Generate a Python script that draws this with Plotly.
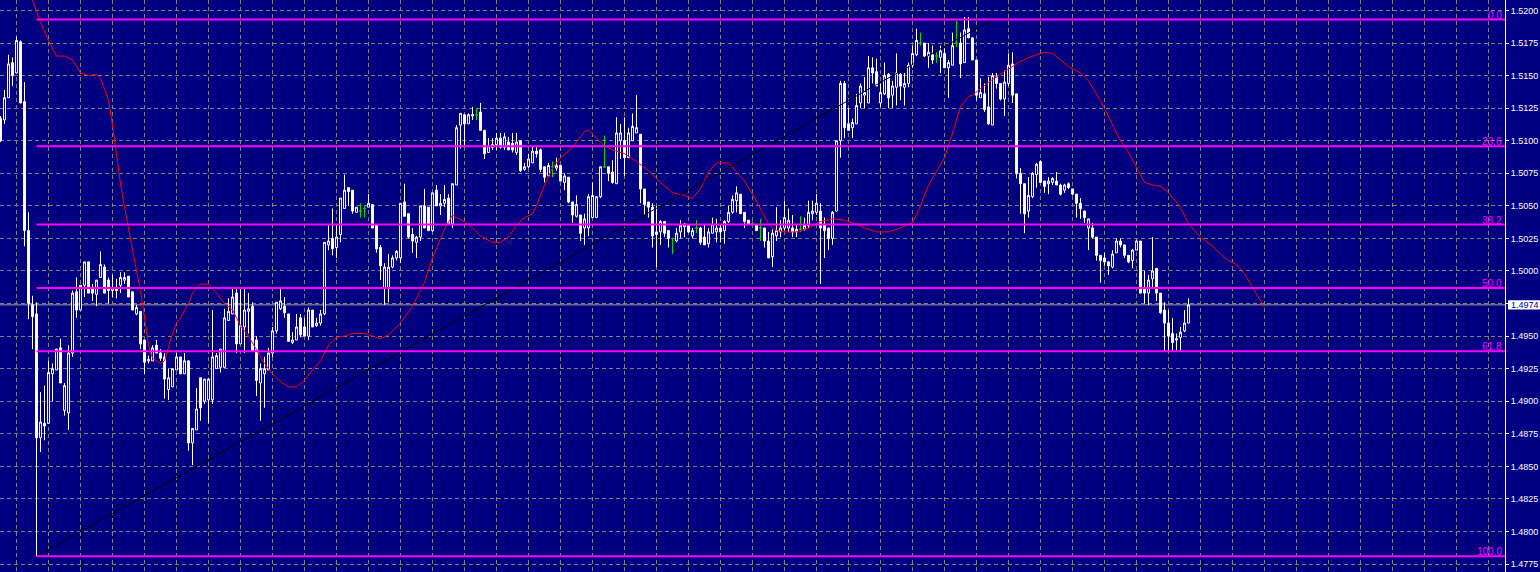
import plotly.graph_objects as go

# ---------------- data ----------------
open_ = [
    1.5117,1.5116,1.5133,1.5160,1.5152,1.5176,1.5130,1.5031,1.4974,1.4967,
    1.4872,1.4883,1.4883,1.4921,1.4924,1.4941,1.4893,1.4891,1.4937,1.4984,
    1.4970,1.4989,1.5007,1.4987,1.4982,1.4995,1.5003,1.4993,1.4985,1.4987,
    1.4989,1.4993,1.4996,1.4984,1.4967,1.4969,1.4947,1.4931,1.4931,1.4943,
    1.4937,1.4934,1.4909,1.4911,1.4924,1.4934,1.4921,1.4931,1.4868,1.4878,
    1.4918,1.4900,1.4901,1.4901,1.4925,1.4926,1.4926,1.4962,1.4967,1.4983,
    1.4944,1.4957,1.4969,1.4973,1.4947,1.4914,1.4921,1.4924,1.4937,1.4954,
    1.4971,1.4973,1.4967,1.4945,1.4947,1.4964,1.4957,1.4950,1.4970,1.4958,
    1.4960,1.4967,1.5020,1.5025,1.5018,1.5028,1.5048,1.5064,1.5062,1.5045,
    1.5046,1.5048,1.5049,1.5051,1.5035,1.5018,1.4987,1.4987,1.5003,1.5010,
    1.5010,1.5053,1.5044,1.5028,1.5022,1.5026,1.5050,1.5049,1.5031,1.5062,
    1.5050,1.5052,1.5056,1.5036,1.5066,1.5112,1.5120,1.5113,1.5119,1.5120,
    1.5122,1.5108,1.5091,1.5095,1.5097,1.5102,1.5095,1.5099,1.5098,1.5091,
    1.5100,1.5078,1.5080,1.5083,1.5092,1.5093,1.5080,1.5073,1.5080,1.5079,
    1.5081,1.5068,1.5072,1.5053,1.5042,1.5043,1.5033,1.5033,1.5041,1.5041,
    1.5057,1.5080,1.5080,1.5076,1.5067,1.5100,1.5100,1.5087,1.5100,1.5106,
    1.5105,1.5063,1.5053,1.5049,1.5030,1.5030,1.5038,1.5031,1.5025,1.5023,
    1.5030,1.5034,1.5035,1.5027,1.5033,1.5033,1.5026,1.5021,1.5029,1.5030,
    1.5033,1.5031,1.5038,1.5045,1.5054,1.5059,1.5045,1.5039,1.5036,1.5035,
    1.5033,1.5033,1.5023,1.5011,1.5027,1.5030,1.5033,1.5033,1.5033,1.5030,
    1.5032,1.5032,1.5035,1.5044,1.5045,1.5046,1.5036,1.5033,1.5025,1.5046,
    1.5100,1.5144,1.5113,1.5110,1.5113,1.5129,1.5135,1.5129,1.5156,1.5153,
    1.5129,1.5136,1.5151,1.5135,1.5141,1.5151,1.5141,1.5144,1.5158,1.5166,
    1.5175,1.5175,1.5165,1.5166,1.5165,1.5164,1.5167,1.5156,1.5158,1.5175,
    1.5175,1.5160,1.5186,1.5179,1.5162,1.5133,1.5136,1.5126,1.5112,1.5149,
    1.5144,1.5132,1.5144,1.5159,1.5136,1.5075,1.5067,1.5046,1.5057,1.5074,
    1.5084,1.5069,1.5067,1.5068,1.5069,1.5066,1.5062,1.5067,1.5063,1.5059,
    1.5052,1.5046,1.5033,1.5033,1.5026,1.5012,1.5010,1.5007,1.5003,1.5014,
    1.5023,1.5020,1.5012,1.5008,1.5016,1.5023,1.4987,1.4983,1.4994,1.5002,
    1.4983,1.4970,1.4960,1.4952,1.4947,1.4949,1.4954,1.4960,
]
high = [
    1.5119,1.5139,1.5166,1.5164,1.5180,1.5177,1.5145,1.5045,1.4981,1.4976,
    1.4907,1.4912,1.4931,1.4929,1.4940,1.4948,1.4914,1.4943,1.4985,1.4995,
    1.4989,1.5007,1.5007,1.4990,1.4993,1.5015,1.5005,1.4995,1.4997,1.4994,
    1.4999,1.4999,1.4996,1.4984,1.4974,1.4969,1.4947,1.4935,1.4943,1.4947,
    1.4940,1.4937,1.4925,1.4925,1.4937,1.4934,1.4937,1.4931,1.4879,1.4910,
    1.4918,1.4917,1.4918,1.4970,1.4937,1.4940,1.4971,1.4979,1.4987,1.4986,
    1.4986,1.4986,1.4983,1.4976,1.4950,1.4929,1.4934,1.4941,1.4957,1.4976,
    1.4986,1.4980,1.4967,1.4953,1.4967,1.4967,1.4964,1.4972,1.4970,1.4964,
    1.4970,1.5022,1.5035,1.5048,1.5035,1.5056,1.5074,1.5064,1.5062,1.5049,
    1.5052,1.5050,1.5059,1.5051,1.5035,1.5020,1.5006,1.5013,1.5012,1.5016,
    1.5052,1.5067,1.5044,1.5033,1.5027,1.5050,1.5063,1.5049,1.5060,1.5066,
    1.5059,1.5066,1.5059,1.5067,1.5112,1.5121,1.5120,1.5121,1.5126,1.5125,
    1.5129,1.5108,1.5102,1.5102,1.5106,1.5106,1.5106,1.5103,1.5106,1.5106,
    1.5100,1.5083,1.5090,1.5096,1.5096,1.5094,1.5080,1.5083,1.5084,1.5087,
    1.5081,1.5075,1.5072,1.5053,1.5058,1.5043,1.5044,1.5059,1.5068,1.5057,
    1.5080,1.5104,1.5080,1.5085,1.5118,1.5113,1.5118,1.5110,1.5121,1.5135,
    1.5105,1.5063,1.5053,1.5052,1.5050,1.5039,1.5038,1.5031,1.5025,1.5033,
    1.5039,1.5037,1.5035,1.5033,1.5039,1.5034,1.5036,1.5033,1.5041,1.5040,
    1.5036,1.5039,1.5050,1.5058,1.5065,1.5059,1.5045,1.5039,1.5038,1.5035,
    1.5040,1.5033,1.5030,1.5032,1.5049,1.5039,1.5054,1.5048,1.5043,1.5036,
    1.5042,1.5041,1.5054,1.5054,1.5059,1.5052,1.5041,1.5033,1.5046,1.5100,
    1.5146,1.5146,1.5125,1.5117,1.5136,1.5144,1.5149,1.5165,1.5164,1.5163,
    1.5144,1.5160,1.5152,1.5146,1.5167,1.5152,1.5152,1.5160,1.5173,1.5186,
    1.5183,1.5175,1.5175,1.5173,1.5168,1.5173,1.5171,1.5162,1.5183,1.5192,
    1.5183,1.5195,1.5195,1.5179,1.5162,1.5148,1.5144,1.5149,1.5152,1.5152,
    1.5144,1.5154,1.5167,1.5168,1.5136,1.5079,1.5067,1.5072,1.5076,1.5083,
    1.5085,1.5069,1.5072,1.5072,1.5076,1.5067,1.5067,1.5068,1.5063,1.5059,
    1.5056,1.5046,1.5040,1.5037,1.5026,1.5012,1.5014,1.5007,1.5016,1.5025,
    1.5025,1.5020,1.5012,1.5017,1.5024,1.5023,1.5000,1.4997,1.5026,1.5002,
    1.4983,1.4976,1.4970,1.4964,1.4952,1.4957,1.4970,1.4979,
]
low = [
    1.5099,1.5113,1.5133,1.5142,1.5152,1.5129,1.5019,1.4963,1.4940,1.4849,
    1.4861,1.4870,1.4883,1.4900,1.4924,1.4914,1.4889,1.4878,1.4934,1.4964,
    1.4970,1.4980,1.4983,1.4977,1.4973,1.4995,1.4983,1.4975,1.4980,1.4979,
    1.4983,1.4990,1.4980,1.4970,1.4966,1.4940,1.4921,1.4929,1.4931,1.4937,
    1.4931,1.4902,1.4901,1.4911,1.4924,1.4921,1.4921,1.4862,1.4851,1.4878,
    1.4885,1.4898,1.4883,1.4898,1.4925,1.4922,1.4926,1.4962,1.4967,1.4937,
    1.4944,1.4937,1.4952,1.4939,1.4904,1.4885,1.4895,1.4924,1.4934,1.4952,
    1.4970,1.4964,1.4946,1.4944,1.4947,1.4949,1.4950,1.4947,1.4957,1.4957,
    1.4958,1.4966,1.5016,1.5012,1.5010,1.5022,1.5048,1.5050,1.5044,1.5045,
    1.5041,1.5041,1.5049,1.5033,1.5014,1.4993,1.4974,1.4976,1.5002,1.5008,
    1.5006,1.5042,1.5025,1.5014,1.5010,1.5023,1.5033,1.5031,1.5030,1.5050,
    1.5043,1.5049,1.5036,1.5033,1.5066,1.5094,1.5096,1.5113,1.5116,1.5116,
    1.5108,1.5086,1.5091,1.5093,1.5093,1.5094,1.5093,1.5093,1.5091,1.5089,
    1.5076,1.5077,1.5079,1.5083,1.5087,1.5076,1.5068,1.5072,1.5072,1.5077,
    1.5069,1.5062,1.5052,1.5037,1.5041,1.5023,1.5020,1.5027,1.5041,1.5041,
    1.5056,1.5079,1.5069,1.5067,1.5067,1.5086,1.5073,1.5087,1.5100,1.5106,
    1.5052,1.5043,1.5041,1.5018,1.5003,1.5020,1.5026,1.5018,1.5013,1.5022,
    1.5025,1.5026,1.5029,1.5025,1.5029,1.5020,1.5020,1.5018,1.5029,1.5022,
    1.5022,1.5021,1.5037,1.5044,1.5045,1.5044,1.5033,1.5036,1.5034,1.5031,
    1.5023,1.5018,1.5010,1.5003,1.5023,1.5026,1.5031,1.5030,1.5026,1.5026,
    1.5030,1.5031,1.5033,1.5039,1.5043,1.4990,1.5010,1.5016,1.5020,1.5046,
    1.5087,1.5102,1.5108,1.5102,1.5113,1.5125,1.5125,1.5129,1.5144,1.5142,
    1.5126,1.5135,1.5125,1.5125,1.5127,1.5131,1.5127,1.5141,1.5156,1.5165,
    1.5173,1.5164,1.5156,1.5159,1.5160,1.5152,1.5156,1.5133,1.5158,1.5172,
    1.5148,1.5160,1.5179,1.5162,1.5131,1.5133,1.5122,1.5112,1.5112,1.5140,
    1.5131,1.5119,1.5142,1.5129,1.5071,1.5044,1.5029,1.5041,1.5056,1.5064,
    1.5068,1.5060,1.5059,1.5066,1.5066,1.5058,1.5060,1.5063,1.5058,1.5041,
    1.5040,1.5037,1.5016,1.5025,1.5008,1.4991,1.5004,1.4997,1.5002,1.5014,
    1.5018,1.5010,1.5006,1.5002,1.5016,1.4983,1.4975,1.4974,1.4987,1.4977,
    1.4967,1.4939,1.4939,1.4938,1.4939,1.4939,1.4953,1.4960,
]
close_ = [
    1.5100,1.5133,1.5159,1.5150,1.5177,1.5129,1.5031,1.4975,1.4965,1.4872,
    1.4884,1.4881,1.4922,1.4925,1.4940,1.4914,1.4912,1.4937,1.4983,1.4970,
    1.4989,1.5007,1.4983,1.4983,1.4993,1.5005,1.4983,1.4985,1.4987,1.4985,
    1.4995,1.4995,1.4980,1.4970,1.4972,1.4944,1.4930,1.4932,1.4941,1.4937,
    1.4933,1.4917,1.4918,1.4925,1.4934,1.4921,1.4931,1.4868,1.4879,1.4894,
    1.4895,1.4917,1.4917,1.4934,1.4935,1.4940,1.4964,1.4969,1.4980,1.4944,
    1.4958,1.4970,1.4971,1.4939,1.4916,1.4925,1.4925,1.4937,1.4954,1.4976,
    1.4977,1.4968,1.4946,1.4947,1.4957,1.4951,1.4950,1.4970,1.4957,1.4960,
    1.4967,1.5022,1.5023,1.5017,1.5026,1.5056,1.5062,1.5061,1.5046,1.5049,
    1.5046,1.5048,1.5052,1.5033,1.5017,1.5004,1.5003,1.5003,1.5010,1.5015,
    1.5052,1.5042,1.5026,1.5023,1.5026,1.5050,1.5033,1.5031,1.5060,1.5050,
    1.5052,1.5055,1.5036,1.5067,1.5110,1.5121,1.5113,1.5120,1.5120,1.5120,
    1.5108,1.5090,1.5096,1.5097,1.5102,1.5095,1.5103,1.5093,1.5093,1.5099,
    1.5077,1.5080,1.5086,1.5092,1.5090,1.5078,1.5072,1.5081,1.5080,1.5081,
    1.5069,1.5073,1.5053,1.5043,1.5051,1.5029,1.5040,1.5057,1.5058,1.5057,
    1.5080,1.5080,1.5075,1.5068,1.5106,1.5106,1.5087,1.5106,1.5111,1.5110,
    1.5063,1.5051,1.5049,1.5027,1.5028,1.5038,1.5029,1.5025,1.5025,1.5029,
    1.5035,1.5036,1.5030,1.5031,1.5033,1.5022,1.5020,1.5030,1.5036,1.5033,
    1.5030,1.5038,1.5045,1.5055,1.5060,1.5044,1.5038,1.5036,1.5036,1.5031,
    1.5033,1.5023,1.5010,1.5029,1.5031,1.5033,1.5041,1.5039,1.5030,1.5032,
    1.5032,1.5035,1.5045,1.5046,1.5052,1.5033,1.5031,1.5025,1.5045,1.5100,
    1.5144,1.5110,1.5108,1.5114,1.5127,1.5142,1.5137,1.5156,1.5152,1.5142,
    1.5137,1.5150,1.5133,1.5142,1.5152,1.5142,1.5144,1.5158,1.5167,1.5177,
    1.5175,1.5165,1.5168,1.5162,1.5165,1.5169,1.5156,1.5160,1.5173,1.5175,
    1.5159,1.5185,1.5179,1.5162,1.5135,1.5137,1.5124,1.5113,1.5150,1.5144,
    1.5132,1.5145,1.5158,1.5135,1.5075,1.5067,1.5044,1.5058,1.5075,1.5082,
    1.5068,1.5065,1.5069,1.5071,1.5066,1.5059,1.5066,1.5064,1.5059,1.5052,
    1.5048,1.5041,1.5040,1.5026,1.5012,1.5008,1.5007,1.5004,1.5013,1.5023,
    1.5020,1.5012,1.5007,1.5016,1.5023,1.4983,1.4983,1.4993,1.5000,1.4983,
    1.4968,1.4960,1.4950,1.4945,1.4948,1.4953,1.4960,1.4974,
]
bars = list(range(len(close_)))

# displaced moving average (red), read at bar positions
ma_bars = [
    8,10,12,14,16,18,20,22,24,25,26,27,28,29,30,31,32,33,34,35,
    36,37,38,40,41,42,43,44,45,47,48,50,52,54,56,58,60,62,64,66,
    68,70,72,74,76,78,80,82,84,86,88,91,93,95,97,100,103,106,108,111,
    113,114,116,118,120,123,125,127,129,131,133,134,136,138,140,142,144,146,147,149,
    151,153,156,159,162,165,168,171,173,175,177,179,181,182,184,186,188,190,192,194,
    196,199,202,205,208,211,214,216,219,222,225,228,230,232,234,236,238,240,242,243,
    245,247,249,252,255,258,261,263,265,267,270,272,275,277,280,282,284,286,288,290,
    292,295,297,300,303,305,307,309,311,313,315,316,
]
ma_vals = [
    1.5208,1.5191,1.5177,1.5165,1.5165,1.5162,1.5152,1.5150,1.5151,1.5148,
    1.5140,1.5131,1.5112,1.5089,1.5067,1.5049,1.5031,1.5016,1.5000,1.4985,
    1.4964,1.4943,1.4933,1.4929,1.4931,1.4941,1.4952,1.4960,1.4964,1.4975,
    1.4983,1.4990,1.4990,1.4983,1.4975,1.4970,1.4958,1.4950,1.4940,1.4929,
    1.4921,1.4915,1.4911,1.4911,1.4916,1.4924,1.4931,1.4943,1.4949,1.4950,
    1.4952,1.4952,1.4950,1.4948,1.4951,1.4960,1.4973,1.4991,1.5010,1.5032,
    1.5043,1.5041,1.5038,1.5033,1.5027,1.5022,1.5022,1.5026,1.5035,1.5041,
    1.5044,1.5050,1.5066,1.5079,1.5087,1.5092,1.5099,1.5107,1.5108,1.5102,
    1.5096,1.5093,1.5090,1.5084,1.5077,1.5068,1.5060,1.5058,1.5056,1.5063,
    1.5076,1.5083,1.5083,1.5083,1.5076,1.5069,1.5059,1.5048,1.5036,1.5031,
    1.5030,1.5030,1.5033,1.5038,1.5040,1.5039,1.5036,1.5033,1.5030,1.5030,
    1.5033,1.5037,1.5050,1.5066,1.5077,1.5087,1.5106,1.5126,1.5134,1.5135,
    1.5140,1.5145,1.5149,1.5155,1.5161,1.5165,1.5168,1.5167,1.5162,1.5157,
    1.5152,1.5146,1.5131,1.5119,1.5100,1.5091,1.5079,1.5068,1.5066,1.5065,
    1.5060,1.5049,1.5036,1.5026,1.5019,1.5013,1.5008,1.5005,1.4998,1.4987,
    1.4977,1.4972,
]

# Fibonacci retracement object
fib_anchor_bars = [9, 248]
fib_anchor_prices = [1.4781, 1.5193]
fib_ratios = [0.0, 0.236, 0.382, 0.5, 0.618, 1.0]
fib_labels = ["0.0", "23.6", "38.2", "50.0", "61.8", "100.0"]

last_price = 1.4974
last_label = "1.4974"

y_tick_vals = [1.4775, 1.4800, 1.4825, 1.4850, 1.4875, 1.4900, 1.4925, 1.4950,
               1.4975, 1.5000, 1.5025, 1.5050, 1.5075, 1.5100, 1.5125, 1.5150,
               1.5175, 1.5200]
y_tick_text = ["1.4775", "1.4800", "1.4825", "1.4850", "1.4875", "1.4900", "1.4925", "1.4950",
               "", "1.5000", "1.5025", "1.5050", "1.5075", "1.5100", "1.5125", "1.5150",
               "1.5175", "1.5200"]

# ---------------- styling ----------------
NAVY = "#000080"
WHITE = "#ffffff"
GRID = "#808080"
MAGENTA = "#ff00ff"
DOJI = "#00e000"
FONT = "Liberation Sans, Arial, sans-serif"
X_RANGE = [-0.125, 376.125]
Y_RANGE = [1.476888, 1.520806]

fig = go.Figure()


def candle_trace(idx, fill, line):
    return go.Candlestick(
        x=[bars[i] for i in idx],
        open=[open_[i] for i in idx],
        high=[high[i] for i in idx],
        low=[low[i] for i in idx],
        close=[close_[i] for i in idx],
        increasing=dict(fillcolor=fill, line=dict(color=line, width=1)),
        decreasing=dict(fillcolor=fill, line=dict(color=line, width=1)),
        whiskerwidth=0,
        showlegend=False,
        hoverinfo="skip",
    )


bull = [i for i in bars if close_[i] > open_[i]]
bear = [i for i in bars if close_[i] < open_[i]]
doji = [i for i in bars if close_[i] == open_[i]]

fig.add_trace(candle_trace(bull, NAVY, WHITE))
fig.add_trace(candle_trace(bear, WHITE, WHITE))
fig.add_trace(candle_trace(doji, DOJI, DOJI))

# moving average
fig.add_trace(go.Scatter(x=ma_bars, y=ma_vals, mode="lines",
                         line=dict(color="#ff0000", width=1, shape="linear"),
                         showlegend=False, hoverinfo="skip"))

# fibonacci trend line and vertical anchor line
fig.add_trace(go.Scatter(x=fib_anchor_bars, y=fib_anchor_prices, mode="lines",
                         line=dict(color="#000000", width=1),
                         showlegend=False, hoverinfo="skip"))
fig.add_trace(go.Scatter(x=[fib_anchor_bars[0], fib_anchor_bars[0]],
                         y=[low[fib_anchor_bars[0]], fib_anchor_prices[0]], mode="lines",
                         line=dict(color=WHITE, width=1),
                         showlegend=False, hoverinfo="skip"))

fib_hi = fib_anchor_prices[1]
fib_lo = fib_anchor_prices[0]
annotations = []
for r, lab in zip(fib_ratios, fib_labels):
    lvl = fib_hi - r * (fib_hi - fib_lo)
    fig.add_trace(go.Scatter(x=[fib_anchor_bars[0], X_RANGE[1]], y=[lvl, lvl], mode="lines",
                             line=dict(color=MAGENTA, width=2),
                             showlegend=False, hoverinfo="skip"))
    annotations.append(dict(x=1, xref="paper", y=lvl, yref="y", text=lab,
                            xanchor="right", yanchor="bottom", xshift=-2, yshift=-2,
                            showarrow=False, borderpad=0,
                            font=dict(color=MAGENTA, size=10, family=FONT)))

# last price label
annotations.append(dict(x=1, xref="paper", y=last_price, yref="y", text=last_label,
                        xanchor="left", yanchor="middle", xshift=5,
                        showarrow=False, borderpad=0,
                        font=dict(color=NAVY, size=9, family=FONT)))

shapes = [
    dict(type="line", xref="paper", yref="y", x0=0, x1=1, y0=last_price, y1=last_price,
         line=dict(color="#a0a0a0", width=1), layer="between"),
    dict(type="rect", xref="paper", yref="y", x0=1.002, x1=1.024,
         y0=last_price - 0.00036, y1=last_price + 0.00036,
         fillcolor=WHITE, line=dict(width=0), layer="below"),
]

fig.update_layout(
    width=1540, height=572,
    margin=dict(l=0, r=35, t=0, b=0, pad=0),
    paper_bgcolor=NAVY, plot_bgcolor=NAVY,
    showlegend=False, hovermode=False,
    font=dict(family=FONT, size=9, color=WHITE),
    annotations=annotations, shapes=shapes,
    xaxis=dict(range=X_RANGE, showticklabels=False, ticks="", tick0=4, dtick=8,
               showgrid=True, gridcolor=GRID, griddash="4px,3px", gridwidth=1,
               zeroline=False, showline=False, automargin=False,
               rangeslider=dict(visible=False)),
    yaxis=dict(range=Y_RANGE, side="right", tickvals=y_tick_vals, ticktext=y_tick_text,
               ticks="outside", ticklen=3, tickcolor=WHITE, tickwidth=1,
               showline=True, linecolor=WHITE, linewidth=1,
               showgrid=True, gridcolor=GRID, griddash="4px,3px", gridwidth=1,
               zeroline=False, automargin=False,
               tickfont=dict(color=WHITE, size=9, family=FONT)),
)

fig.write_html(
    "out.html",
    config={"displayModeBar": False},
    post_script="document.body.style.margin='0';document.body.style.padding='0';"
                "document.body.style.background='#000080';document.body.style.overflow='hidden';",
)
